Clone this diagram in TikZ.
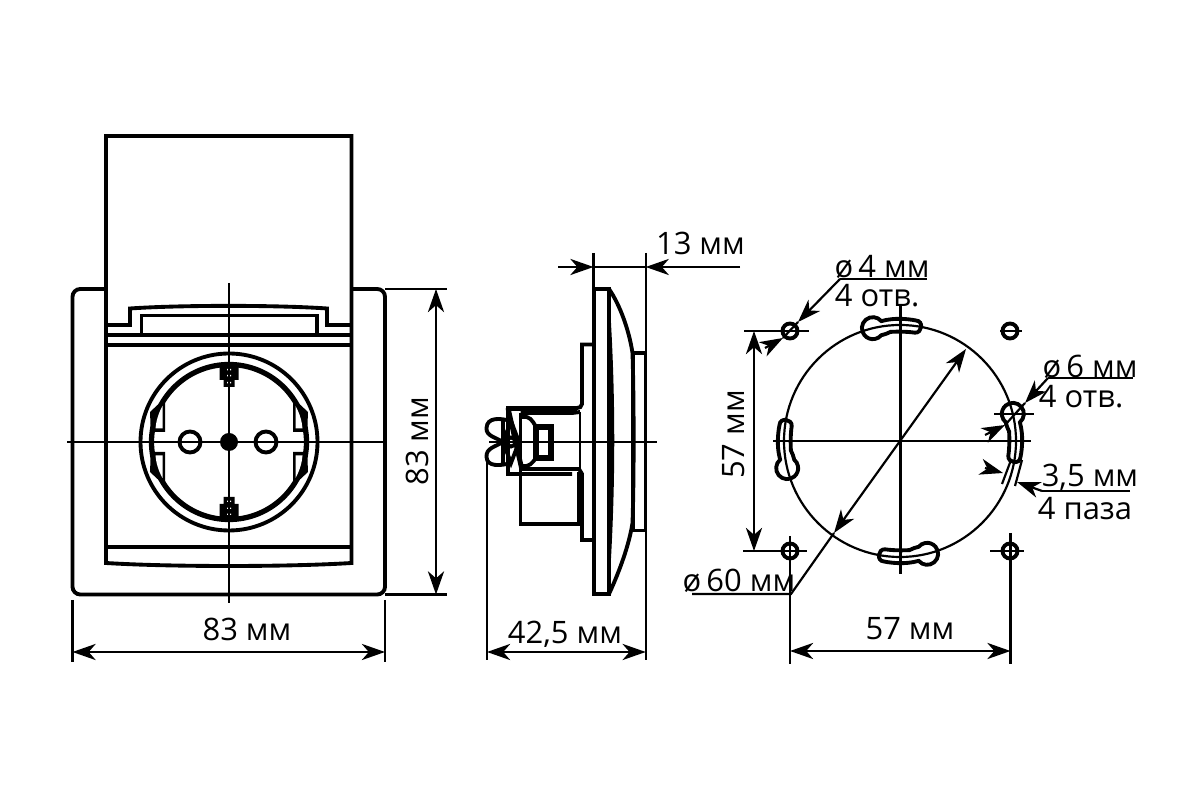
\documentclass[tikz,border=0pt]{standalone}
\usepackage{fontspec}
\setmainfont{Open Sans}
\usetikzlibrary{arrows.meta}
\tikzset{
  part/.style={line width=1.1pt},
  hair/.style={line width=0.62pt},
  lbl/.style={inner sep=0pt,text depth=0pt,font=\fontsize{8.8}{11}\selectfont},
  >={Stealth[length=6.6pt,width=4.6pt,inset=2pt]}
}
\begin{document}
\begin{tikzpicture}[x=0.1mm,y=-0.1mm]
  \useasboundingbox (0,0) rectangle (1200,800);
  \fill[white] (0,0) rectangle (1200,800);
  % front view
  \draw[part,rounded corners=2.2pt] (72.5,289) rectangle (385,594.5);
  \draw[part,fill=white] (106,563) .. controls (170,567) and (288,567) .. (351.5,563) -- (351.5,136) -- (106,136) -- cycle;
  \draw[part] (106,547) -- (351.5,547);
  \draw[part] (106,345) -- (351.5,345);
  \draw[part] (106,335) -- (351.5,335);
  \draw[part] (106,325) -- (130,325) -- (130,308.5) .. controls (180,305) and (277,305) .. (327,308.5) -- (327,325) -- (351.5,325);
  \draw[part] (141.5,335) -- (141.5,315.5) -- (317,315.5) -- (317,335);
  \draw[part] (229,442) circle[radius=88.5];
  \draw[line width=1.5pt] (229,442) circle[radius=77.5];
  \foreach \sx in {-1,1} \foreach \sy in {-1,1}{
    \begin{scope}[shift={(229,442)},xscale=\sx,yscale=\sy]
      \fill (64,44) -- (64,10) -- (76,10) -- (78,5) -- (79,30) -- cycle;
      \fill[white] (66.5,36) -- (66.5,13.5) -- (73.5,13.5) .. controls (73,20) and (71,28) .. cycle;
    \end{scope}
  }
  \foreach \sy in {-1,1}{
    \begin{scope}[shift={(229,442)},yscale=\sy]
      \fill (-9.5,-78) rectangle (9.5,-62) (-5.5,-63) rectangle (5.5,-55);
      \foreach \py in {-73,-67,-60}
        \fill[white] (-2,\py) rectangle (-0.8,\py+1.4) (1,\py) rectangle (2.2,\py+1.4);
    \end{scope}
  }
  \draw[part] (190,442) circle[radius=10.5];
  \draw[part] (266,442) circle[radius=10.5];
  \fill (229,442) circle[radius=9];
  \draw[hair] (67,442) -- (387,442);
  \draw[hair] (229,283) -- (229,603);
  % front dimensions
  \draw[hair] (72.5,600) -- (72.5,662);
  \draw[hair] (385,600) -- (385,662);
  \draw[hair,<->] (72.5,652) -- (385,652);
  \node[lbl] (frontw) at (247,629) {83 мм};
  \draw[hair] (385,289) -- (447,289);
  \draw[hair] (385,594.5) -- (447,594.5);
  \draw[hair,<->] (436,289) -- (436,594.5);
  \node[lbl,rotate=90] (fronth) at (417,441) {83 мм};
  % side view
  \draw[part] (594,289) rectangle (609,594);
  \draw[part] (609,289) .. controls (620,305) and (629,330) .. (632.5,353) .. controls (634,400) and (634,480) .. (632.5,523) .. controls (629,545) and (620,570) .. (609,594);
  \fill (609,292) .. controls (616,390) and (616,490) .. (609,590) -- cycle;
  \draw[part] (633,353) rectangle (645.5,530.5);
  \draw[part] (594,344.5) -- (582,344.5) -- (582,404) .. controls (581,407) and (580,408) .. (577,408) -- (508,408) -- (508,474) -- (572,474);
  \draw[line width=1.3pt] (508,408.5) -- (577,408.5);
  \draw[part] (594,540) -- (582,540) -- (582,474) -- (579,469);
  \draw[line width=1.7pt] (580,472) -- (580,524);
  \draw[hair] (580,412) -- (580,469);
  \draw[part] (520.5,413) -- (520.5,524) -- (581,524);
  \draw[part] (520.5,413) -- (572,413) -- (580,412);
  \draw[part] (520.5,469) -- (579,469);
  \draw[part] (522,417) .. controls (530,416) and (532,420) .. (536,427);
  \draw[part] (522,466) .. controls (530,467) and (532,463) .. (536,458);
  \draw[line width=1.5pt] (536,427) rectangle (551,458);
  \draw[line width=1.4pt] (508,408) -- (522,470);
  \draw[part] (503,421) -- (503,463);
  \draw[part] (511,421) -- (503,442) -- (511,463) -- (519,442) -- cycle;
  \draw[part] (511,442) circle[radius=4.5];
  \draw[part] (503,442) .. controls (495,437) and (486,436) .. (486.5,428) .. controls (487,417) and (500,418) .. (511,421);
  \draw[part] (503,442) .. controls (495,447) and (486,448) .. (486.5,457) .. controls (487,467) and (500,466) .. (511,463);
  \draw[hair] (489,442) -- (657,442);
  % side dimensions
  \draw[hair] (593.5,253) -- (593.5,289);
  \draw[hair] (645.7,253) -- (645.7,660);
  \draw[hair] (593.5,267) -- (645.7,267);
  \draw[hair,->] (558,267) -- (593.5,267);
  \draw[hair,->] (740,267) -- (645.7,267);
  \node[lbl] (depth) at (700.5,243.5) {13 мм};
  \draw[hair] (487,460) -- (487,660);
  \draw[hair,<->] (487,652) -- (645.7,652);
  \node[lbl] (total) at (565,632) {42,5 мм};
  % mounting view
  \coordinate (hubc) at (900,441);
  \coordinate (holea) at (790,331);
  \coordinate (holeb) at (1010,331);
  \coordinate (holec) at (790,551);
  \coordinate (holed) at (1010,551);
  \draw[hair] (hubc) circle[radius=116];
  \foreach \ang in {0,90,180,270}{
    \begin{scope}[shift={(hubc)},rotate=\ang]
      \draw[part] (109.1,-9.5) .. controls (109.5,-3) and (109.5,7) .. (108.3,15) .. controls (107.8,22) and (120,24) .. (120.5,16) .. controls (122.5,6) and (122.5,-4) .. (121.5,-10.6) .. controls (121,-15) and (120,-17) .. (119.9,-18.7) arc[start angle=50,end angle=-230,radius=11] .. controls (106,-15) and (108,-13) .. cycle;
    \end{scope}
  }
  \foreach \hole in {holea,holeb,holec,holed}
    \draw[part] (\hole) circle[radius=7.5];
  \draw[hair] (773,441) -- (1031,441);
  \draw[hair] (900.5,306) -- (900.5,574);
  \draw[hair] (744,331) -- (809,331);
  \draw[hair] (1000,331) -- (1022,331);
  \draw[hair] (743,551) -- (807,551);
  \draw[hair] (990,551) -- (1024,551);
  \draw[hair] (790,536) -- (790,664);
  \draw[hair] (1010.5,533) -- (1010.5,664);
  \draw[hair] (994,414) -- (1034,414);
  % mounting dimensions
  \draw[hair,<->] (754,331) -- (754,551);
  \node[lbl,rotate=90] (spacev) at (733,434.5) {57 мм};
  \draw[hair,<->] (790,651) -- (1010.5,651);
  \node[lbl] (spaceh) at (910,628) {57 мм};
  % diameter 60
  \coordinate (rimu) at (966,349);
  \coordinate (riml) at (834,533);
  \coordinate (kneea) at (791,594);
  \draw[hair,<->] (riml) -- (rimu);
  \draw[hair] (692,594) -- (kneea) -- (riml);
  \node[lbl] (dsixty) at (739,580) {ø\,60 мм};
  % holes 4
  \coordinate (kneeb) at (840,279);
  \coordinate (smallu) at (798,322);
  \coordinate (smalll) at (783,338);
  \draw[hair] (927,279) -- (kneeb);
  \draw[hair,->] (kneeb) -- (smallu);
  \draw[hair] (smallu) -- (smalll);
  \draw[hair,->] (765,348) -- (smalll);
  \node[lbl] (dfour) at (882,266) {ø\,4 мм};
  \node[lbl] (nfour) at (877,295) {4 отв.};
  % holes 6
  \coordinate (kneec) at (1048,378);
  \coordinate (bulbu) at (1025,403);
  \coordinate (bulbl) at (1005,425);
  \draw[hair] (1132.5,378) -- (kneec);
  \draw[hair,->] (kneec) -- (bulbu);
  \draw[hair] (bulbu) -- (bulbl);
  \draw[hair,->] (985,435) -- (bulbl);
  \node[lbl] (dsix) at (1090,366) {ø\,6 мм};
  \node[lbl] (nsix) at (1081,396.5) {4 отв.};
  % slot width
  \coordinate (kneed) at (1042,491);
  \draw[hair] (1011,460) -- (1002,484);
  \draw[hair] (1022,460) -- (1015,486);
  \draw[hair,->] (985,468) -- (1003,473);
  \draw[hair] (1130,491) -- (kneed);
  \draw[hair,->] (kneed) -- (1017,482);
  \node[lbl] (wslot) at (1090,475) {3,5 мм};
  \node[lbl] (nslot) at (1085,508) {4 паза};
\end{tikzpicture}
\end{document}
